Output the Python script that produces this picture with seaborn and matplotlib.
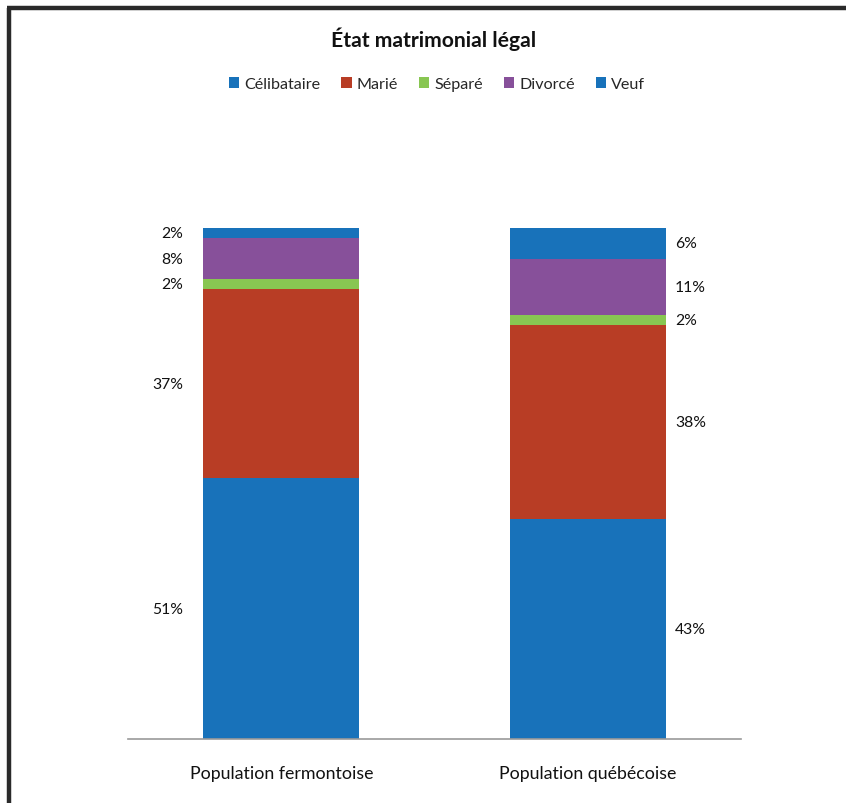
import matplotlib
matplotlib.use("Agg")
import matplotlib.pyplot as plt
from matplotlib.patches import Patch
from matplotlib.lines import Line2D
import seaborn as sns
import numpy as np

categories = ["Population fermontoise", "Population québécoise"]
series = ["Célibataire", "Marié", "Séparé", "Divorcé", "Veuf"]
celibataire = [51, 43]
marie = [37, 38]
separe = [2, 2]
divorce = [8, 11]
veuf = [2, 6]
labels = [["51%", "43%"], ["37%", "38%"], ["2%", "2%"], ["8%", "11%"], ["2%", "6%"]]
colors = ["#1872BA", "#B83D25", "#88C652", "#87509A", "#1872BA"]

values = [celibataire, marie, separe, divorce, veuf]

sns.set_theme(style="white")
plt.rcParams["font.family"] = ["Lato", "DejaVu Sans"]

fig = plt.figure(figsize=(8.46, 8.04), dpi=100)
ax = fig.add_axes([128 / 846, 1 - 740 / 804, 613 / 846, 511 / 804])

cum = np.cumsum(np.array(values), axis=0)
# draw from top (largest cumulative) to bottom so lower segments overlay
for i in range(len(series) - 1, -1, -1):
    sns.barplot(x=categories, y=cum[i], color=colors[i], width=0.51,
                saturation=1, ax=ax, linewidth=0)

ax.set_ylim(0, 100)
ax.set_xlim(-0.5, 1.5)
for s in ["top", "right", "left"]:
    ax.spines[s].set_visible(False)
ax.spines["bottom"].set_color("#999999")
ax.spines["bottom"].set_linewidth(1.2)
ax.set_yticks([])
ax.set_ylabel("")
ax.tick_params(axis="x", length=0, pad=19, labelsize=12.8)
for t in ax.get_xticklabels():
    t.set_color("#111111")

# data labels
half_w = 0.51 / 2
for i in range(len(series)):
    for j in range(len(categories)):
        y = cum[i][j] - values[i][j] / 2
        if j == 0:
            ax.text(j - half_w - 0.065, y, labels[i][j], ha="right", va="center",
                    fontsize=11.3, color="#111111")
        else:
            ax.text(j + half_w + 0.03, y, labels[i][j], ha="left", va="center",
                    fontsize=11.3, color="#111111")

fig.text(434 / 846, 1 - 39 / 804, "État matrimonial légal", ha="center", va="center",
         fontsize=15.2, fontweight="bold", color="#111111")

handles = [Patch(facecolor=colors[k], edgecolor="none") for k in range(len(series))]
fig.legend(handles, series, loc="center", bbox_to_anchor=(437 / 846, 1 - 85 / 804),
           ncol=5, frameon=False, fontsize=11.6, handlelength=0.65, handleheight=0.65,
           handletextpad=0.3, columnspacing=1.3)

# outer border (top and left)
fig.add_artist(Line2D([9 / 846, 9 / 846], [0, 1 - 9 / 804], transform=fig.transFigure,
                      color="#2a2a2a", linewidth=3.2, solid_capstyle="butt"))
fig.add_artist(Line2D([7 / 846, 1], [1 - 9 / 804, 1 - 9 / 804], transform=fig.transFigure,
                      color="#2a2a2a", linewidth=3.2, solid_capstyle="butt"))

fig.savefig("out.png", dpi=100, facecolor="white")
